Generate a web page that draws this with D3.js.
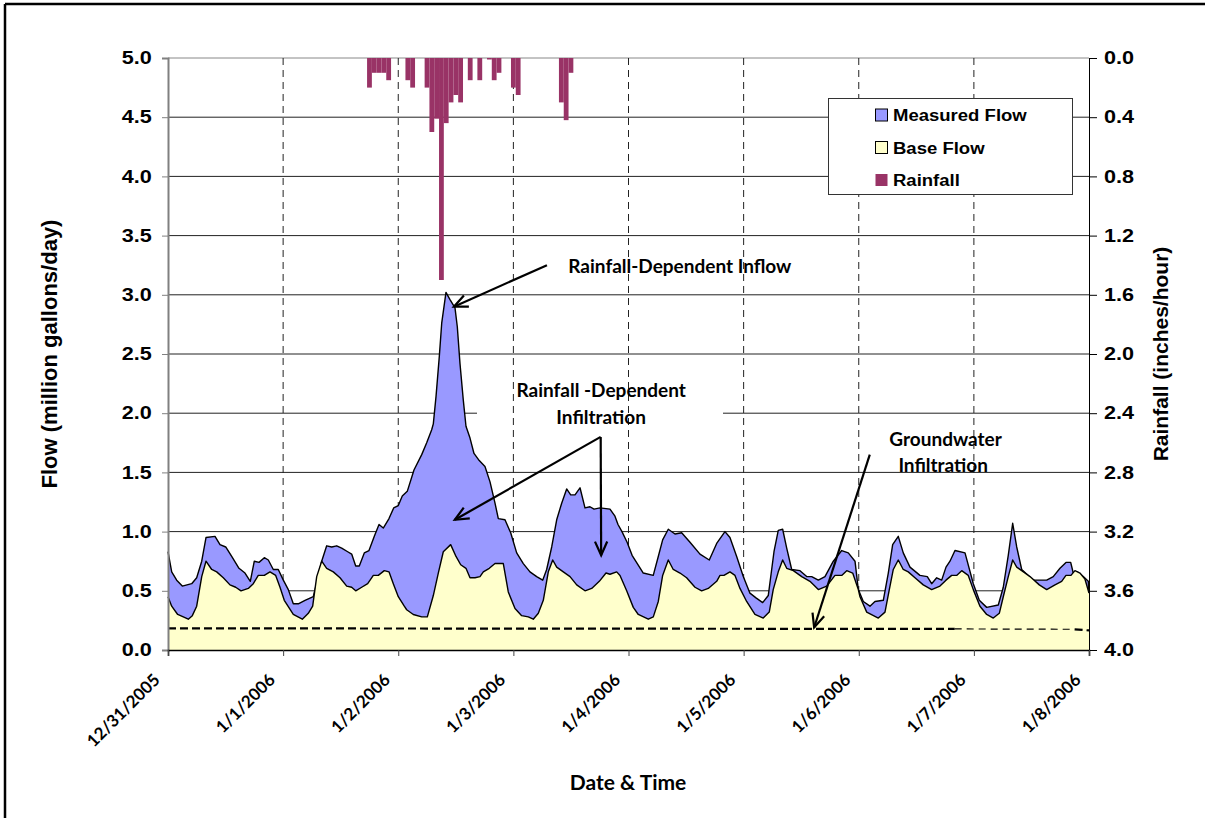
<!DOCTYPE html>
<html><head><meta charset="utf-8">
<script src="https://cdn.jsdelivr.net/npm/d3@7"></script>
<style>
body{margin:0;background:#fff;overflow:hidden;}
svg{display:block;}
.tk{font-family:"Liberation Sans",Arial,sans-serif;font-weight:bold;fill:#000;}
.cal{font-family:Lato,"Open Sans",sans-serif;font-weight:bold;fill:#000;}
</style></head>
<body>
<svg id="c" width="1205" height="818"></svg>
<script>
// ---------- DATA ----------
const dayLabels = ["12/31/2005","1/1/2006","1/2/2006","1/3/2006","1/4/2006","1/5/2006","1/6/2006","1/7/2006","1/8/2006"];
const flowTicks = [0,0.5,1,1.5,2,2.5,3,3.5,4,4.5,5];
const rainTicks = [0,0.4,0.8,1.2,1.6,2.0,2.4,2.8,3.2,3.6,4.0];

// hours since 12/31/2005 00:00
const measuredHours = [0,0.77,1.81,2.98,4.94,5.98,7.03,7.92,9.8,10.84,12.03,13.28,14.8,16.05,17.16,17.99,18.97,20.08,20.91,21.95,22.99,24.04,25.08,26.12,27.16,28.56,30.29,31.33,32.04,33.08,34.13,35.17,36.21,37.46,38.29,39.13,39.88,40.92,41.9,43.01,43.99,44.88,46.07,47.05,48.01,48.84,49.88,51.28,52.89,53.93,54.97,55.31,55.87,56.56,57.06,57.95,58.79,59.83,60.31,60.87,61.56,62.12,62.96,63.79,64.89,66.08,67.13,68.17,68.86,70.25,71.44,72.69,74.07,75.46,76.86,78.11,78.94,79.99,81.03,82.07,83.11,83.95,84.85,85.89,86.93,87.97,88.81,90.06,92.14,93.18,93.81,94.64,95.71,96.75,98.0,99.08,101.16,102.21,103.12,104.29,105.69,107.08,108.82,110.9,112.84,114.38,116.11,117.15,118.55,119.93,121.32,122.58,123.97,125.14,126.33,127.22,128.14,128.98,130.02,131.75,133.15,134.19,135.57,136.96,138.7,140.45,141.82,143.22,143.91,144.95,146.34,147.38,149.12,150.16,151.07,152.24,153.28,154.68,156.76,158.29,159.2,160.25,161.29,162.19,163.02,164.06,166.15,167.88,169.13,170.67,173.09,174.13,175.17,176.09,176.93,177.97,180.39,183.18,184.55,185.95,187.2,188.18,188.72,189.55,190.81,191.85,192];
const measuredFlow = [0.83,0.66,0.59,0.54,0.56,0.61,0.75,0.95,0.96,0.89,0.87,0.79,0.69,0.65,0.58,0.75,0.74,0.78,0.76,0.68,0.68,0.59,0.51,0.39,0.39,0.42,0.45,0.62,0.75,0.88,0.87,0.88,0.86,0.83,0.81,0.71,0.71,0.82,0.84,0.96,1.06,1.03,1.11,1.20,1.22,1.30,1.34,1.52,1.65,1.75,1.86,1.91,2.14,2.48,2.76,3.02,2.96,2.89,2.73,2.42,2.11,1.89,1.79,1.66,1.60,1.55,1.42,1.24,1.11,1.10,0.99,0.82,0.73,0.66,0.62,0.59,0.68,0.87,1.10,1.24,1.36,1.31,1.31,1.37,1.20,1.21,1.19,1.20,1.19,1.13,1.06,1.00,0.91,0.80,0.72,0.65,0.63,0.79,0.93,1.02,0.98,0.99,0.91,0.81,0.76,0.90,1.00,0.95,0.79,0.62,0.48,0.44,0.40,0.46,0.83,1.01,1.02,0.86,0.68,0.67,0.62,0.62,0.59,0.62,0.75,0.84,0.82,0.75,0.51,0.41,0.37,0.41,0.42,0.65,0.89,0.96,0.82,0.70,0.63,0.62,0.56,0.61,0.59,0.70,0.75,0.84,0.82,0.56,0.42,0.36,0.38,0.53,0.80,1.07,0.87,0.68,0.59,0.59,0.62,0.69,0.74,0.74,0.65,0.66,0.62,0.58,0.48];

const baseHours = [0,0.77,2.02,3.19,4.23,5.07,5.98,7.03,7.92,9.11,10.15,11.53,12.92,14.11,15.22,16.74,17.78,18.82,20.08,21.26,22.45,23.35,24.24,26.12,28.0,29.25,30.16,31.0,32.04,33.08,34.46,35.86,37.25,38.29,39.13,40.38,41.63,42.8,43.84,45.09,46.07,46.97,48.01,49.26,49.76,51.14,52.89,54.06,55.31,56.35,57.39,58.93,60.04,61.02,62.12,62.96,64.0,65.04,65.73,66.98,68.17,69.9,70.94,72.34,73.73,75.11,76.15,77.2,78.24,79.28,80.2,81.03,82.41,83.81,85.2,86.93,88.33,89.91,91.31,92.14,93.54,94.23,95.62,97.0,98.04,100.13,101.17,102.21,103.12,104.29,105.33,106.73,108.12,109.86,111.25,112.63,114.38,115.07,115.9,117.15,118.2,119.24,120.63,122.36,124.09,125.34,126.17,127.22,128.14,128.98,130.36,132.11,133.83,135.57,137.32,139.05,140.45,141.49,142.74,143.91,144.26,145.66,148.08,149.47,150.37,151.2,152.24,153.28,154.32,155.72,157.45,159.2,160.93,162.19,163.37,164.41,165.46,166.83,167.88,169.27,170.67,172.05,173.3,174.13,175.17,176.09,176.93,177.97,179.7,181.64,183.18,184.91,186.3,187.2,188.24,189.07,190.11,191.15,192];
const baseFlow = [0.45,0.37,0.30,0.28,0.26,0.29,0.37,0.62,0.75,0.68,0.66,0.61,0.55,0.53,0.50,0.52,0.56,0.63,0.63,0.66,0.63,0.53,0.42,0.30,0.26,0.31,0.37,0.62,0.75,0.69,0.66,0.61,0.54,0.53,0.50,0.53,0.56,0.63,0.63,0.67,0.66,0.56,0.45,0.37,0.34,0.30,0.28,0.28,0.46,0.65,0.83,0.89,0.79,0.72,0.69,0.61,0.61,0.62,0.66,0.69,0.73,0.73,0.49,0.35,0.29,0.28,0.26,0.31,0.42,0.66,0.76,0.70,0.66,0.62,0.55,0.50,0.52,0.58,0.65,0.64,0.66,0.63,0.50,0.36,0.30,0.26,0.28,0.41,0.63,0.76,0.68,0.65,0.61,0.53,0.50,0.52,0.58,0.63,0.63,0.66,0.63,0.52,0.41,0.30,0.27,0.32,0.51,0.66,0.76,0.69,0.67,0.62,0.58,0.51,0.54,0.63,0.63,0.67,0.65,0.51,0.45,0.32,0.27,0.32,0.51,0.68,0.76,0.68,0.66,0.61,0.55,0.51,0.54,0.59,0.63,0.63,0.67,0.63,0.51,0.37,0.30,0.27,0.31,0.45,0.62,0.76,0.70,0.67,0.62,0.55,0.51,0.55,0.58,0.63,0.63,0.67,0.65,0.60,0.48];

const groundwaterHours = [0,164,189,192];
const groundwaterFlow = [0.183,0.178,0.175,0.165];

const rainHours = [42,43,44,45,46,50,51,54,55,56,57,58,59,60,61,63,65,67,68,69,72,73,82,83,84];
const rainDepth = [0.20,0.10,0.10,0.10,0.15,0.15,0.20,0.20,0.50,0.41,1.50,0.44,0.30,0.25,0.30,0.15,0.15,0.01,0.15,0.10,0.20,0.25,0.30,0.42,0.10];

const legendItems = ["Measured Flow","Base Flow","Rainfall"];

// ---------- LAYOUT ----------
const L=168, R=1089, T=58, B=650;
const SX = 1.2; // horizontal stretch of the Arial-like labels
const svg = d3.select("#c");
const x = d3.scaleLinear().domain([0,192]).range([L,R]);
const y = d3.scaleLinear().domain([0,5]).range([B,T]);
const yr = d3.scaleLinear().domain([0,4]).range([T,B]);

// outer frame (left and top edges visible)
svg.append("line").attr("x1",5).attr("x2",1205).attr("y1",4).attr("y2",4).attr("stroke","#000").attr("stroke-width",2.5);
svg.append("line").attr("x1",5).attr("x2",5).attr("y1",4).attr("y2",818).attr("stroke","#000").attr("stroke-width",2.5);

// horizontal gridlines
svg.append("g").selectAll("line").data(flowTicks.slice(1)).join("line")
  .attr("x1",L).attr("x2",R).attr("y1",d=>y(d)).attr("y2",d=>y(d))
  .attr("stroke",(d)=>d===5?"#888":"#222").attr("stroke-width",1);

// white background behind annotation text
svg.append("rect").attr("x",477).attr("y",378).attr("width",246).attr("height",52).attr("fill","#fff");

// vertical dashed gridlines
svg.append("g").selectAll("line").data(d3.range(24,192,24)).join("line")
  .attr("x1",d=>x(d)).attr("x2",d=>x(d)).attr("y1",T).attr("y2",B)
  .attr("stroke","#222").attr("stroke-width",1).attr("stroke-dasharray","7,5");

// areas
const mData = measuredHours.map((h,i)=>[h,measuredFlow[i]]);
const bData = baseHours.map((h,i)=>[h,baseFlow[i]]);
const area = d3.area().x(d=>x(d[0])).y0(y(0)).y1(d=>y(d[1]));
const line = d3.line().x(d=>x(d[0])).y(d=>y(d[1]));
svg.append("path").datum(mData).attr("d",area).attr("fill","#9999FF");
svg.append("path").datum(mData).attr("d",line).attr("fill","none").attr("stroke","#000").attr("stroke-width",1.4).attr("stroke-linejoin","round");
svg.append("path").datum(bData).attr("d",area).attr("fill","#FFFFCC");
svg.append("path").datum(bData).attr("d",line).attr("fill","none").attr("stroke","#000").attr("stroke-width",1.4).attr("stroke-linejoin","round");

// groundwater dashed line
const gw = groundwaterHours.map((h,i)=>[h,groundwaterFlow[i]]);
for(let i=0;i<gw.length-1;i++){
  const thick = i!==1;
  svg.append("line").attr("x1",x(gw[i][0])).attr("x2",x(gw[i+1][0]))
    .attr("y1",y(gw[i][1])).attr("y2",y(gw[i+1][1]))
    .attr("stroke","#000").attr("stroke-width",thick?2.2:1.2)
    .attr("stroke-dasharray",thick?"8,4":"7,5");
}

// rainfall bars
svg.append("g").selectAll("rect").data(rainHours.map((h,i)=>[h,rainDepth[i]])).join("rect")
  .attr("x",d=>x(d[0]-0.5)).attr("width",d=>x(d[0]+0.5)-x(d[0]-0.5))
  .attr("y",yr(0)).attr("height",d=>yr(d[1])-yr(0)).attr("fill","#993366");

// axes
const gL = svg.append("g").attr("transform",`translate(${L},0)`)
  .call(d3.axisLeft(y).tickValues(flowTicks).tickFormat(d3.format(".1f")).tickSize(6).tickPadding(7.5));
gL.select(".domain").attr("stroke","#808080").attr("stroke-width",2);
gL.selectAll(".tick line").attr("stroke","#808080");
gL.selectAll("text").attr("class","tk").attr("font-size",18)
  .attr("transform",`scale(${SX},1)`);

const gR = svg.append("g").attr("transform",`translate(${R},0)`)
  .call(d3.axisRight(yr).tickValues(rainTicks).tickFormat(d3.format(".1f")).tickSize(8).tickPadding(4.5));
gR.select(".domain").attr("stroke","#000");
gR.selectAll("text").attr("class","tk").attr("font-size",18)
  .attr("transform",`scale(${SX},1)`);

const gB = svg.append("g").attr("transform",`translate(0,${B})`)
  .call(d3.axisBottom(x).tickValues(d3.range(0,193,24)).tickSize(6).tickFormat(""));
gB.select(".domain").attr("stroke","#000").attr("stroke-width",1.6);
gB.selectAll(".tick line").attr("stroke","#444");
svg.append("g").selectAll("text").data(dayLabels).join("text")
  .attr("class","cal").attr("font-size",17)
  .attr("text-anchor","end")
  .attr("transform",(d,i)=>`translate(${x(i*24)-7},${B+31}) rotate(-45)`)
  .text(d=>d);

// axis titles
svg.append("text").attr("class","tk").attr("font-size",22)
  .attr("transform",`translate(57,${(T+B)/2}) rotate(-90)`).attr("text-anchor","middle").text("Flow (million gallons/day)");
svg.append("text").attr("class","tk").attr("font-size",21)
  .attr("transform",`translate(1168,${(T+B)/2}) rotate(-90)`).attr("text-anchor","middle").text("Rainfall (inches/hour)");
svg.append("text").attr("class","cal").attr("font-size",21).attr("x",628).attr("y",790)
  .attr("text-anchor","middle").text("Date & Time");

// legend
const lg = svg.append("g");
lg.append("rect").attr("x",828.5).attr("y",98.5).attr("width",244).attr("height",96)
  .attr("fill","#fff").attr("stroke","#333").attr("stroke-width",1);
const swFill = ["#9999FF","#FFFFCC","#993366"];
legendItems.forEach((t,i)=>{
  const cy = 115 + i*32.5;
  lg.append("rect").attr("x",875.5).attr("y",cy-6).attr("width",12).attr("height",12)
    .attr("fill",swFill[i]).attr("stroke",i<2?"#000":"none").attr("stroke-width",1);
  lg.append("text").attr("class","tk").attr("font-size",17)
    .attr("transform",`translate(893,${cy+6}) scale(1.09,1)`).text(t);
});

// annotations
const ann = svg.append("g");
function arrow(x1,y1,x2,y2){
  ann.append("line").attr("x1",x1).attr("y1",y1).attr("x2",x2).attr("y2",y2)
    .attr("stroke","#000").attr("stroke-width",2.2);
  const a = Math.atan2(y2-y1,x2-x1), len=15, spread=0.42;
  const p1=[x2-len*Math.cos(a-spread), y2-len*Math.sin(a-spread)];
  const p2=[x2-len*Math.cos(a+spread), y2-len*Math.sin(a+spread)];
  ann.append("path").attr("d",`M${p1}L${x2},${y2}L${p2}`).attr("fill","none")
    .attr("stroke","#000").attr("stroke-width",2.2).attr("stroke-linejoin","miter");
}
function label(tx,ty,t,size){
  ann.append("text").attr("class","cal").attr("font-size",size).attr("x",tx).attr("y",ty)
    .attr("text-anchor","middle").attr("dominant-baseline","central").text(t);
}
label(x(106.7),y(3.25),"Rainfall-Dependent Inflow",19);
arrow(x(79.0),y(3.25),x(59.6),y(2.90));
label(x(90.3),y(2.20),"Rainfall -Dependent",19);
label(x(90.3),y(1.97),"Infiltration",19);
arrow(x(90.2),y(1.80),x(59.8),y(1.10));
arrow(x(90.2),y(1.80),x(90.3),y(0.80));
label(x(162.1),y(1.79),"Groundwater",19);
label(x(161.6),y(1.57),"Infiltration",19);
arrow(x(146.3),y(1.65),x(134.7),y(0.19));
</script>
</body></html>
